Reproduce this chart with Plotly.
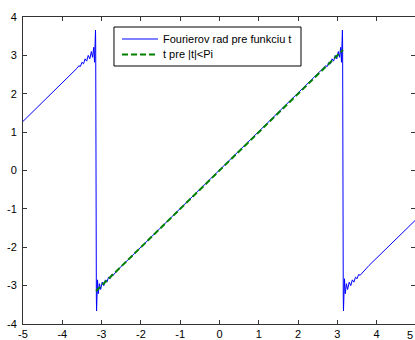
import plotly.graph_objects as go

# Blue curve: partial Fourier sum of f(t)=t
fourier_t = [-5.00, -3.80, -3.62, -3.58, -3.54, -3.50, -3.46, -3.42, -3.38, -3.34,
             -3.30, -3.26, -3.23, -3.20, -3.18, -3.155, -3.150, -3.133, -3.128,
             -3.104, -3.084, -3.054, -3.024, -2.984, -2.944, -2.904, -2.864,
             -2.824, -2.784, -2.744, -2.704, -2.60,
             2.60, 2.704, 2.744, 2.784, 2.824, 2.864, 2.904, 2.944, 2.984,
             3.024, 3.054, 3.084, 3.104, 3.128, 3.133, 3.150, 3.155,
             3.18, 3.20, 3.23, 3.26, 3.30, 3.34, 3.38, 3.42, 3.46, 3.50,
             3.54, 3.58, 3.80, 5.00]
fourier_y = [1.28, 2.48, 2.67, 2.73, 2.71, 2.82, 2.78, 2.91, 2.85, 3.00,
             2.91, 3.10, 2.95, 3.21, 2.82, 3.66, 3.32, -3.32, -3.66,
             -2.85, -3.21, -2.95, -3.10, -2.91, -3.00, -2.85, -2.91,
             -2.78, -2.82, -2.71, -2.73, -2.60,
             2.60, 2.73, 2.71, 2.82, 2.78, 2.91, 2.85, 3.00, 2.91,
             3.10, 2.95, 3.21, 2.82, 3.66, 3.32, -3.32, -3.66,
             -2.82, -3.21, -2.95, -3.10, -2.91, -3.00, -2.85, -2.91, -2.78, -2.82,
             -2.71, -2.73, -2.48, -1.28]

# Green dashed: t for |t| < pi
line_t = [-3.1416, 3.1416]
line_y = [-3.1416, 3.1416]

x_ticks = [-5, -4, -3, -2, -1, 0, 1, 2, 3, 4, 5]
x_labels = ["-5", "-4", "-3", "-2", "-1", "0", "1", "2", "3", "4", "5"]
y_ticks = [-4, -3, -2, -1, 0, 1, 2, 3, 4]
y_labels = ["-4", "-3", "-2", "-1", "0", "1", "2", "3", "4"]

names = ["Fourierov rad pre funkciu t", "t pre |t|<Pi"]
colors = ["#0000FF", "#008000"]

FONT = "Liberation Sans, Arial, sans-serif"

fig = go.Figure()
fig.add_trace(go.Scatter(x=fourier_t, y=fourier_y, mode="lines", name=names[0],
                         line=dict(color=colors[0], width=1)))
fig.add_trace(go.Scatter(x=line_t, y=line_y, mode="lines", name=names[1],
                         line=dict(color=colors[1], width=2, dash="6px,3px")))
# invisible trace on right axis for mirrored ticks
fig.add_trace(go.Scatter(x=[0], y=[0], yaxis="y2", mode="lines", showlegend=False,
                         hoverinfo="skip", line=dict(color="rgba(0,0,0,0)")))

# MATLAB-style legend box (paper coordinates)
lx0, lx1, ly0, ly1 = 0.2321, 0.7092, 0.8404, 0.9674
sx0, sx1, tx = 0.2526, 0.3444, 0.352
row_y = [0.9283, 0.8779]
shapes = [dict(type="rect", xref="paper", yref="paper", x0=lx0, x1=lx1, y0=ly0, y1=ly1,
               line=dict(color="#000", width=1), fillcolor="white", layer="above")]
shapes.append(dict(type="line", xref="paper", yref="paper", x0=sx0, x1=sx1,
                   y0=row_y[0], y1=row_y[0], line=dict(color=colors[0], width=1),
                   layer="above"))
shapes.append(dict(type="line", xref="paper", yref="paper", x0=sx0, x1=sx1,
                   y0=row_y[1], y1=row_y[1],
                   line=dict(color=colors[1], width=2, dash="6px,3px"), layer="above"))
annotations = [dict(xref="paper", yref="paper", x=tx, y=row_y[i], xanchor="left",
                    yanchor="middle", text=names[i], showarrow=False,
                    font=dict(family=FONT, size=11, color="#000"))
               for i in range(2)]
# the "5" tick label at the right edge of the picture
annotations.append(dict(xref="paper", yref="paper", x=1.0, y=0, xanchor="right",
                        yanchor="top", yshift=-3, text=x_labels[-1], showarrow=False,
                        font=dict(family=FONT, size=11, color="#000")))

axis_font = dict(family=FONT, size=11, color="#000")
fig.update_layout(
    width=415, height=340,
    margin=dict(l=23, r=0, t=17, b=16),
    paper_bgcolor="white", plot_bgcolor="white",
    showlegend=False,
    shapes=shapes, annotations=annotations,
    xaxis=dict(range=[-5, 4.975], tickvals=x_ticks, ticktext=x_labels,
               showgrid=False, zeroline=False, showline=True, linecolor="#333",
               linewidth=1, mirror="ticks", ticks="inside", ticklen=4,
               tickcolor="#333", tickfont=axis_font),
    yaxis=dict(range=[-4, 4], tickvals=y_ticks, ticktext=y_labels,
               showgrid=False, zeroline=False, showline=True, linecolor="#333",
               linewidth=1, mirror=False, ticks="inside", ticklen=4,
               tickcolor="#333", tickfont=axis_font, ticklabelstandoff=3),
    yaxis2=dict(range=[-4, 4], overlaying="y", side="right", tickvals=y_ticks,
                showticklabels=False, showgrid=False, zeroline=False,
                showline=False, ticks="inside", ticklen=4, tickcolor="#333"),
)
fig.write_html("out.html")
